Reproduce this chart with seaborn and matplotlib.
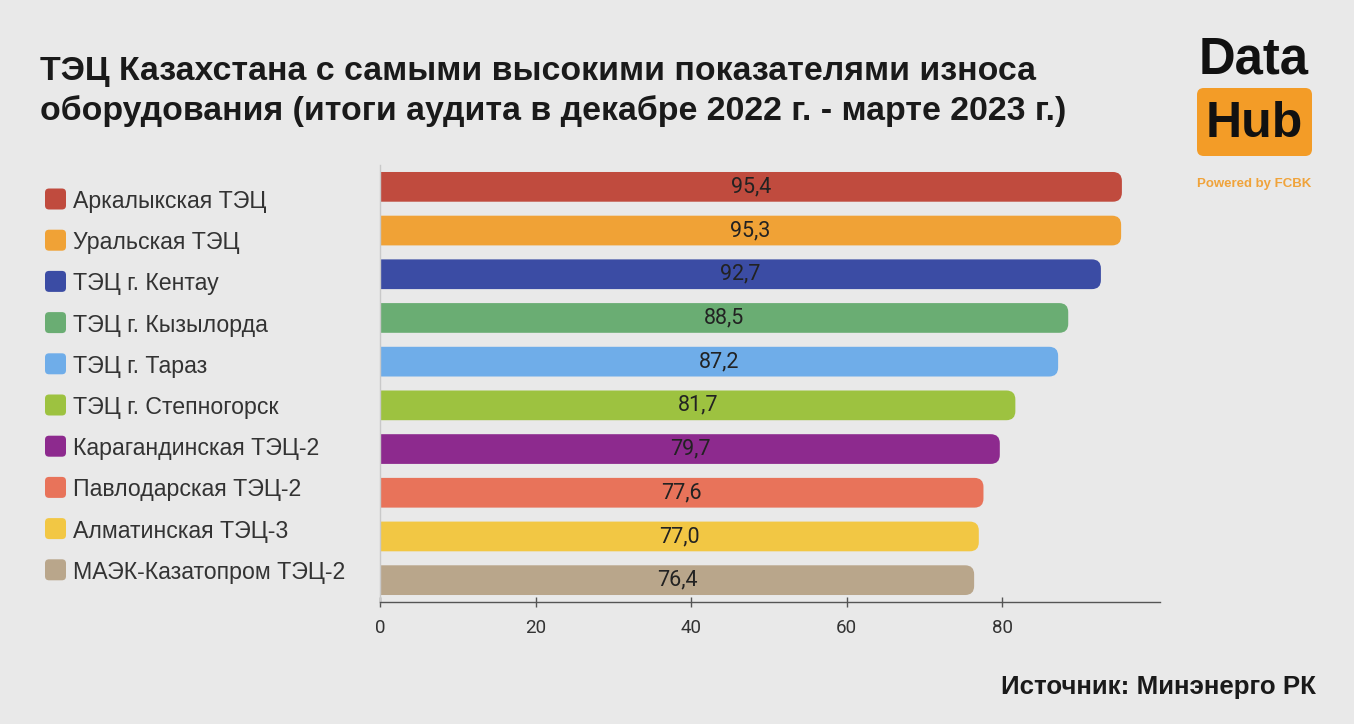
import matplotlib
matplotlib.use("Agg")
import matplotlib.pyplot as plt
from matplotlib.patches import FancyBboxPatch
import seaborn as sns

# data
plants = ["Аркалыкская ТЭЦ", "Уральская ТЭЦ", "ТЭЦ г. Кентау", "ТЭЦ г. Кызылорда",
          "ТЭЦ г. Тараз", "ТЭЦ г. Степногорск", "Карагандинская ТЭЦ-2",
          "Павлодарская ТЭЦ-2", "Алматинская ТЭЦ-3", "МАЭК-Казатопром ТЭЦ-2"]
wear = [95.4, 95.3, 92.7, 88.5, 87.2, 81.7, 79.7, 77.6, 77.0, 76.4]
xticks = [0, 20, 40, 60, 80]

palette = ["#c04b3e", "#f0a236", "#3b4ca4", "#6aad73", "#6fade9",
           "#9dc240", "#8d2a8e", "#e8735a", "#f2c744", "#b9a68b"]

BG = "#e9e9e9"
W, H = 1354, 724

sns.set_theme(style="white")
plt.rcParams["font.family"] = ["Liberation Sans", "DejaVu Sans"]

fig = plt.figure(figsize=(W / 100, H / 100), dpi=100, facecolor=BG)
ax = fig.add_axes([380 / W, 1 - 602 / H, 780 / W, 437 / H])
ax.set_facecolor(BG)

sns.barplot(x=wear, y=plants, hue=plants, palette=palette, legend=False,
            orient="h", width=0.68, ax=ax, saturation=1)

ax.set_xlim(0, 100.3)
ax.set_ylim(9.5, -0.5)

# swap plain bars for rounded ones
px_x = 780 / 100.3
px_y = 437 / 10
old = list(ax.patches)
for p in old:
    x0, y0 = p.get_x(), p.get_y()
    w, h = p.get_width(), p.get_height()
    col = p.get_facecolor()
    p.remove()
    rb = FancyBboxPatch((x0 - 3, y0), w + 3, h,
                        boxstyle="round,pad=0,rounding_size=%f" % (9 / px_x),
                        mutation_aspect=px_x / px_y, facecolor=col,
                        edgecolor="none", zorder=2)
    ax.add_patch(rb)

for i, v in enumerate(wear):
    ax.text(v / 2, i, f"{v:.1f}".replace(".", ","), ha="center", va="center",
            fontsize=15.5, color="#222222", zorder=3,
            family=["Roboto", "DejaVu Sans"])

# axes styling
for s in ["top", "right"]:
    ax.spines[s].set_visible(False)
ax.spines["left"].set_color("#c9c9c9")
ax.spines["left"].set_linewidth(1)
ax.spines["bottom"].set_color("#555555")
ax.spines["bottom"].set_linewidth(1)
ax.set_xticks(xticks)
ax.tick_params(axis="x", bottom=True, direction="inout", length=7, width=1,
               color="#555555", labelsize=13.5, labelcolor="#333333", pad=9)
for lb in ax.get_xticklabels():
    lb.set_family(["Roboto", "DejaVu Sans"])
ax.set_yticks([])
ax.set_xlabel("")
ax.set_ylabel("")

# legend column on the left (its own spacing, not tied to the bars)
for i, (name, c) in enumerate(zip(plants, palette)):
    yc = 1 - (199 + i * 41.2) / H
    fig.patches.append(FancyBboxPatch((45 / W, yc - 10.5 / H), 21 / W, 21 / H,
                                      boxstyle="round,pad=0,rounding_size=0.003",
                                      mutation_aspect=W / H,
                                      transform=fig.transFigure, facecolor=c,
                                      edgecolor="none"))
    fig.text(73 / W, yc, name, ha="left", va="center_baseline",
             fontsize=16.7, color="#333333")

# title
fig.text(40 / W, 1 - 80 / H,
         "ТЭЦ Казахстана с самыми высокими показателями износа",
         ha="left", va="baseline", fontsize=24.4, fontweight="bold",
         color="#1a1a1a")
fig.text(40 / W, 1 - 120 / H,
         "оборудования (итоги аудита в декабре 2022 г. - марте 2023 г.)",
         ha="left", va="baseline", fontsize=24.4, fontweight="bold",
         color="#1a1a1a")

# source
fig.text(1316 / W, 1 - 694 / H, "Источник: Минэнерго РК", ha="right",
         va="baseline", fontsize=18.6, fontweight="bold", color="#1a1a1a")

# logo
fig.text(1254 / W, 1 - 74 / H, "Data", ha="center", va="baseline",
         fontsize=36.5, fontweight="bold", color="#111111")
fig.patches.append(FancyBboxPatch((1197 / W, 1 - 156 / H), 115 / W, 68 / H,
                                  boxstyle="round,pad=0,rounding_size=0.005",
                                  mutation_aspect=W / H,
                                  transform=fig.transFigure, facecolor="#f39c27",
                                  edgecolor="none"))
fig.text(1254 / W, 1 - 137 / H, "Hub", ha="center", va="baseline",
         fontsize=36, fontweight="bold", color="#111111")
fig.text(1254 / W, 1 - 187 / H, "Powered by FCBK", ha="center",
         va="baseline", fontsize=9.5, fontweight="bold", color="#f0a33a")

fig.savefig("out.png", dpi=100, facecolor=BG)
